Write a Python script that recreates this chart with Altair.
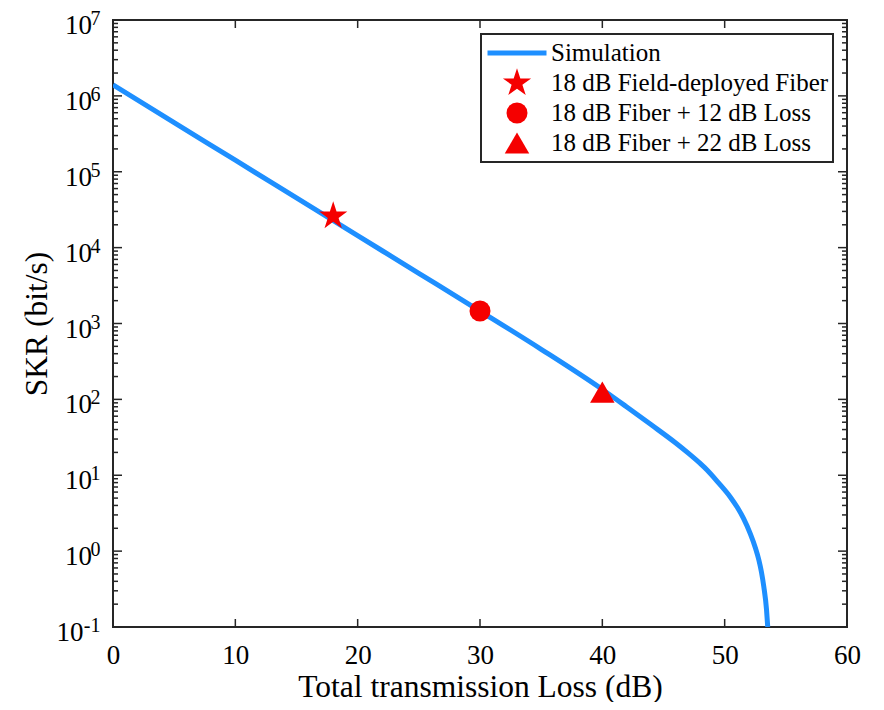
import math
import altair as alt
import pandas as pd

# ---------------- data ----------------
loss_db = [0, 5, 10, 15, 20, 25, 30, 35, 40, 42, 44, 46, 47, 48, 48.56, 49.5, 50.47,
           51.03, 51.55, 52.1, 52.5, 52.8, 53.0, 53.2, 53.42, 53.52]
skr = [1.40e6, 4.45e5, 1.42e5, 4.52e4, 1.44e4, 4.59e3, 1.46e3, 457, 135,
       79.4, 46.2, 26.6, 19.7, 14.3, 11.75, 7.94, 5.14,
       3.78, 2.68, 1.69, 1.12, 0.759, 0.537, 0.339, 0.170, 0.1]

marker_labels = ["18 dB Field-deployed Fiber", "18 dB Fiber + 12 dB Loss",
                 "18 dB Fiber + 22 dB Loss"]
marker_loss = [18, 30, 40]
marker_skr = [2.6e4, 1.46e3, 1.25e2]

legend_labels = ["Simulation"] + marker_labels

x_ticks = [0, 10, 20, 30, 40, 50, 60]
y_exponents = [-1, 0, 1, 2, 3, 4, 5, 6, 7]

# ---------------- styling ----------------
W, H = 734, 607
FONT = "Liberation Serif"
TXT = "#000000"
AX = "#262626"
BLUE = "#1E8FFF"
RED = "#F50000"

pts = []
for i in range(10):
    ang = math.radians(-90 + 36 * i)
    r = 1.0 if i % 2 == 0 else 0.382
    pts.append(f"{r * math.cos(ang):.4f},{r * math.sin(ang):.4f}")
STAR = "M" + " L".join(pts) + " Z"

curve_df = pd.DataFrame({"loss": loss_db, "skr": skr})
marker_df = pd.DataFrame({"loss": marker_loss, "skr": marker_skr, "label": marker_labels})
ylab_df = pd.DataFrame({"skr": [10.0 ** e for e in y_exponents], "e": y_exponents,
                        "exp": [str(e) for e in y_exponents]})
ymaj_df = pd.DataFrame({"skr": [10.0 ** e for e in y_exponents]})
ymin_df = pd.DataFrame({"skr": [k * 10.0 ** e for e in range(-1, 7) for k in range(2, 10)]})
xt_df = pd.DataFrame({"loss": x_ticks})

xs = alt.Scale(domain=[0, 60], nice=False, zero=False)
ys = alt.Scale(type="log", domain=[0.1, 1e7], nice=False)

X_AX = alt.Axis(
    values=x_ticks, title="Total transmission Loss (dB)", ticks=False, tickSize=0,
    domain=False, grid=False, labelFlush=False, labelFont=FONT, labelFontSize=27,
    labelColor=TXT, labelPadding=15, titleFont=FONT, titleFontSize=31.5,
    titleFontWeight="normal", titleColor=TXT, titlePadding=3)
Y_AX = alt.Axis(
    labels=False, ticks=False, tickSize=0, domain=False, grid=False,
    title="SKR (bit/s)", titleFont=FONT, titleFontSize=31.5, titleFontWeight="normal",
    titleColor=TXT, titlePadding=60)

def X(field="loss:Q"):
    return alt.X(field, scale=xs, axis=X_AX)

def Y(field="skr:Q"):
    return alt.Y(field, scale=ys, axis=Y_AX)

line = alt.Chart(curve_df).mark_line(
    color=BLUE, strokeWidth=5, interpolate="monotone", clip=True
).encode(x=X(), y=Y())

leg = alt.Legend(
    title=None, orient="top-right", offset=14, padding=4, clipHeight=30, rowPadding=0,
    labelFont=FONT, labelFontSize=25, labelColor=TXT, labelOffset=2, labelLimit=600,
    fillColor="white", strokeColor=AX, symbolStrokeWidth=5,
)

points = alt.Chart(marker_df).mark_point(filled=True, opacity=1, strokeWidth=0).encode(
    x=X(), y=Y(),
    shape=alt.Shape("label:N", scale=alt.Scale(domain=legend_labels,
                    range=["stroke", STAR, "circle", "triangle-up"]), legend=leg),
    color=alt.Color("label:N", scale=alt.Scale(domain=legend_labels,
                    range=[BLUE, RED, RED, RED]), legend=leg),
    stroke=alt.Stroke("label:N", scale=alt.Scale(domain=legend_labels,
                      range=[BLUE, "transparent", "transparent", "transparent"]), legend=leg),
    size=alt.Size("label:N", scale=alt.Scale(type="ordinal", domain=legend_labels,
                  range=[3481, 880, 441, 600]), legend=leg),
)

def yrule(df, x0, x1):
    return alt.Chart(df).mark_rule(color=AX, strokeWidth=1.5).encode(
        y=Y(), x=alt.value(x0), x2=alt.value(x1))

def xrule(df, y0, y1):
    return alt.Chart(df).mark_rule(color=AX, strokeWidth=1.5).encode(
        x=X(), y=alt.value(y0), y2=alt.value(y1))

ticks = [
    yrule(ymaj_df, 0, 9), yrule(ymaj_df, W, W - 9),
    yrule(ymin_df, 0, 5), yrule(ymin_df, W, W - 5),
    xrule(xt_df, H, H - 8), xrule(xt_df, 0, 8),
]

def ylabel(filter_expr, base_x):
    return alt.Chart(ylab_df).transform_filter(filter_expr).mark_text(
        align="right", baseline="middle", font=FONT, fontSize=27, color=TXT, dy=6, text="10"
    ).encode(y=Y(), x=alt.value(base_x))

exps = alt.Chart(ylab_df).mark_text(
    align="right", baseline="middle", font=FONT, fontSize=20, color=TXT, dy=-1
).encode(y=Y(), x=alt.value(-12.5), text="exp:N")

chart = alt.layer(
    line, points, *ticks,
    ylabel("datum.e >= 0", -21), ylabel("datum.e < 0", -29.5), exps,
).properties(
    width=W, height=H,
    autosize=alt.AutoSizeParams(type="none"),
    padding={"left": 105, "top": 12, "right": 20, "bottom": 75},
).configure_view(stroke=AX, strokeWidth=2).configure_axis(grid=False).configure_legend(
    strokeWidth=2
)

chart.save("out.html", embed_options={"renderer": "svg", "actions": False})
